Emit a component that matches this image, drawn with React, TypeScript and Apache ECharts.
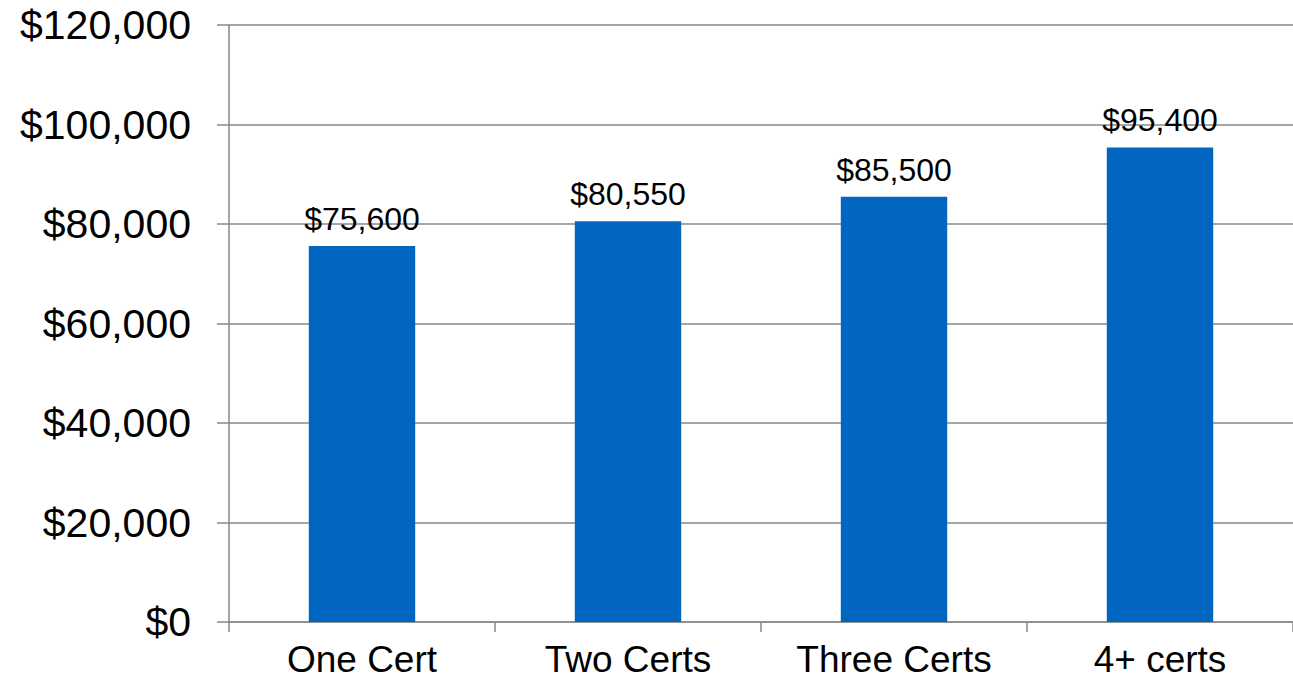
import React, { useEffect, useRef } from "react";
import * as echarts from "echarts";

const categories = ["One Cert", "Two Certs", "Three Certs", "4+ certs"];
const salaries = [75600, 80550, 85500, 95400];

const fmt = (v: number) => "$" + v.toLocaleString("en-US");

export default function App() {
  const ref = useRef<HTMLDivElement>(null);
  useEffect(() => {
    if (!ref.current) return;
    const chart = echarts.init(ref.current, undefined, { renderer: "svg" });
    chart.setOption({
      animation: false,
      backgroundColor: "#ffffff",
      textStyle: { fontFamily: "Liberation Sans, Arial, sans-serif" },
      grid: { left: 229, width: 1068, top: 25, bottom: 59, containLabel: false },
      xAxis: {
        type: "category",
        data: categories,
        axisLine: { show: true, lineStyle: { color: "#888888", width: 1.5 } },
        axisTick: { show: true, length: 10, lineStyle: { color: "#888888", width: 1.5 } },
        axisLabel: { color: "#000000", fontSize: 37, margin: 19, fontFamily: "Liberation Sans, Arial, sans-serif" },
      },
      yAxis: {
        type: "value",
        min: 0,
        max: 120000,
        interval: 20000,
        axisLine: { show: true, lineStyle: { color: "#888888", width: 1.5 } },
        axisTick: { show: true, length: 12, lineStyle: { color: "#888888", width: 1.5 } },
        splitLine: { show: true, lineStyle: { color: "#888888", width: 1.5 } },
        axisLabel: {
          color: "#000000",
          fontSize: 41,
          margin: 38,
          fontFamily: "Liberation Sans, Arial, sans-serif",
          formatter: (v: number) => fmt(v),
        },
      },
      series: [
        {
          type: "bar",
          data: salaries,
          barWidth: "40%",
          itemStyle: { color: "#0066C0" },
          label: {
            show: true,
            position: "top",
            distance: 11,
            color: "#000000",
            fontSize: 32,
            fontFamily: "Liberation Sans, Arial, sans-serif",
            formatter: (p: any) => fmt(p.value),
          },
        },
      ],
    });
    return () => chart.dispose();
  }, []);
  return (
    <div
      ref={ref}
      style={{ position: "absolute", left: 0, top: 0, width: 1293, height: 681 }}
    />
  );
}
